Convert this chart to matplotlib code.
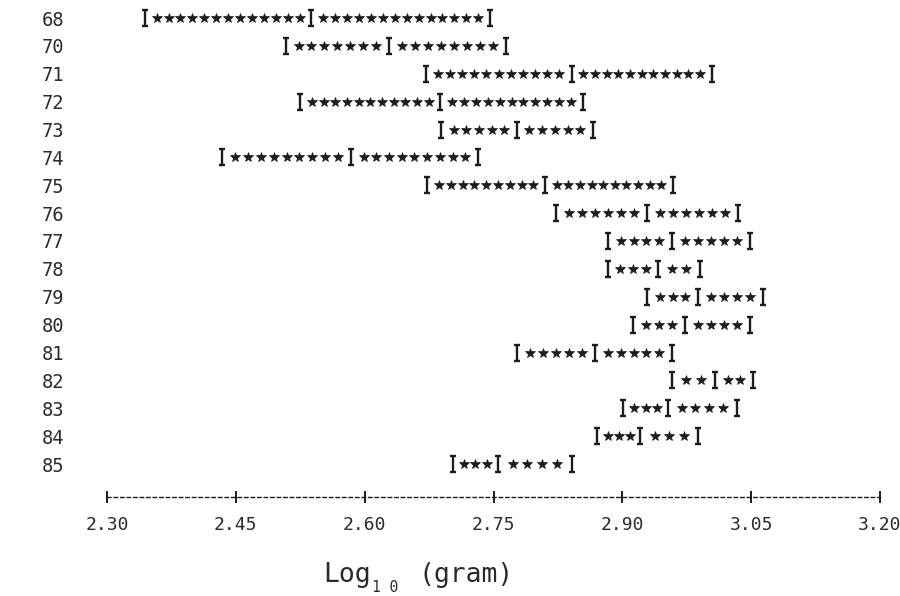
import numpy as np
import matplotlib
matplotlib.use('Agg')
import matplotlib.pyplot as plt
from matplotlib.path import Path

# years (row labels) and the three "I" positions per row, in log10(gram)
years = ['68', '70', '71', '72', '73', '74', '75', '76', '77',
         '78', '79', '80', '81', '82', '83', '84', '85']
low = [2.344, 2.508, 2.671, 2.525, 2.689, 2.434, 2.673, 2.823, 2.883,
       2.883, 2.929, 2.912, 2.777, 2.958, 2.901, 2.871, 2.703]
mean = [2.538, 2.628, 2.841, 2.688, 2.777, 2.584, 2.810, 2.929, 2.958,
        2.942, 2.988, 2.973, 2.868, 3.008, 2.953, 2.921, 2.755]
high = [2.746, 2.765, 3.004, 2.854, 2.866, 2.732, 2.959, 3.035, 3.049,
        2.990, 3.064, 3.049, 2.958, 3.052, 3.033, 2.988, 2.841]
# number of printed stars on each side of the mean
stars_left = [13, 7, 11, 11, 5, 9, 9, 6, 4, 3, 3, 3, 5, 2, 3, 3, 3]
stars_right = [14, 8, 11, 11, 5, 9, 10, 6, 5, 2, 4, 4, 5, 2, 4, 3, 4]

xticks = [2.30, 2.45, 2.60, 2.75, 2.90, 3.05, 3.20]

ink = '#1c1c1c'
mono = 'DejaVu Sans Mono'

# serif "I" like the line printer one
ibar = Path([(-0.38, 1), (0.38, 1), (0, 1), (0, -1), (-0.38, -1), (0.38, -1)],
            [Path.MOVETO, Path.LINETO, Path.MOVETO, Path.LINETO,
             Path.MOVETO, Path.LINETO])

fig = plt.figure(figsize=(9, 5.96), dpi=100)
fig.set_facecolor('white')
W, H = 900, 596
ax = fig.add_axes([85 / W, (H - 497) / H, 805 / W, 497 / H])

rows = np.arange(len(years))
for i in rows:
    xs = np.concatenate([np.linspace(low[i], mean[i], stars_left[i] + 2)[1:-1],
                         np.linspace(mean[i], high[i], stars_right[i] + 2)[1:-1]])
    ax.plot(xs, np.full(len(xs), i), ls='none', marker='*', ms=7.2,
            color=ink, mec=ink, mew=0.5)
    ax.plot([low[i], mean[i], high[i]], [i, i, i], ls='none', marker=ibar,
            ms=11, color=ink, mew=1.7)

px = 858.9  # pixels per unit on the x scale
ax.set_xlim(2.30 - 22 / px, 2.30 + 783 / px)
ax.set_ylim((497 - 18) / 27.875, -18 / 27.875)

for s in ['top', 'right', 'left']:
    ax.spines[s].set_visible(False)
ax.spines['bottom'].set_bounds(xticks[0], xticks[-1])
ax.spines['bottom'].set_linestyle((0, (2.5, 2.2)))
ax.spines['bottom'].set_linewidth(1.0)
ax.spines['bottom'].set_color(ink)

ax.set_xticks(xticks)
ax.set_xticklabels(['%.2f' % t for t in xticks], family=mono, fontsize=13,
                   color='#2a2a2a')
ax.tick_params(axis='x', direction='inout', length=9, width=1.4,
               color=ink, pad=9)
ax.set_yticks(rows)
ax.set_yticklabels(years, family=mono, fontsize=13.5, color='#2a2a2a')
ax.tick_params(axis='y', length=0, pad=15)

# x label: Log, subscript 10, (gram)
fig.text(323 / W, 1 - 582 / H, 'Log', family=mono, fontsize=19,
         color='#2a2a2a', va='baseline')
fig.text(372 / W, 1.5 / H, '1 0', family=mono, fontsize=10.5,
         color='#2a2a2a', va='bottom')
fig.text(418 / W, 1 - 582 / H, '(gram)', family=mono, fontsize=19,
         color='#2a2a2a', va='baseline')

fig.savefig('out.png', dpi=100, facecolor='white')
